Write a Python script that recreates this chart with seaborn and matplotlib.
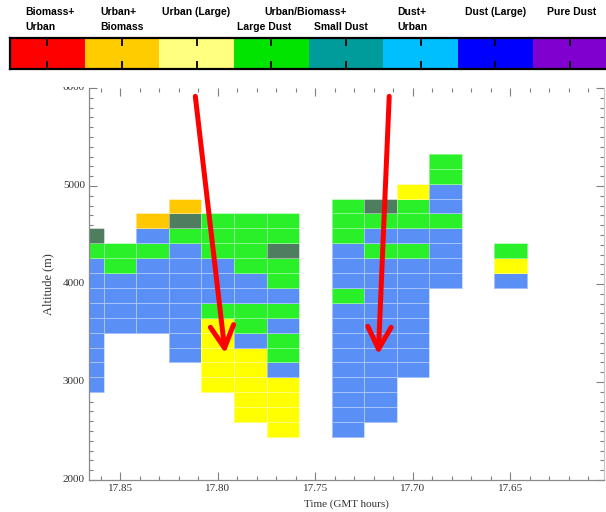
import numpy as np
import pandas as pd
import matplotlib
matplotlib.use("Agg")
import matplotlib.pyplot as plt
import matplotlib.transforms as mtransforms
from matplotlib.colors import ListedColormap
from matplotlib.patches import Rectangle
import seaborn as sns

sns.set_theme(style="white")
plt.rcParams["font.family"] = ["Liberation Serif", "DejaVu Serif"]

# ---- colour key of aerosol types -------------------------------------
key_colors = ["#ff0000", "#ffcc00", "#ffff80", "#00e400",
              "#009c9c", "#00bfff", "#0000ff", "#8000d0"]
key_line1 = ["Biomass+", "Urban+", "Urban (Large)", "Urban/Biomass+",
             "Dust+", "Dust (Large)", "Pure Dust"]
key_line2 = ["Urban", "Biomass", "Large Dust", "Small Dust", "Urban"]

# ---- retrieval grid ---------------------------------------------------
# one-minute time bins (GMT hours)
times = [17.8667, 17.85, 17.8333, 17.8167, 17.80, 17.7833, 17.7667,
         17.75, 17.7333, 17.7167, 17.70, 17.6833, 17.6667, 17.65]
# altitude bin centres (m)
altitudes = [2516, 2668, 2820, 2972, 3124, 3276, 3428, 3580, 3732, 3884,
             4036, 4188, 4340, 4492, 4644, 4796, 4948, 5100, 5252]

# aerosol type per altitude bin, bottom to top, one string per time bin
# B dust+urban, G urban/biomass+large dust, Y urban (large),
# O urban+biomass, D urban/biomass+small dust, . no retrieval
profiles = [
    "...BBBBBBBBBGD.....",
    ".......BBBBGG......",
    ".......BBBBBGBO....",
    ".....BBBBBBBBGDO...",
    "...YYYYYGBBBGGG....",
    ".YYYYYBGGBBGGGG....",
    "YYYYBGGBGBGGDGG....",
    "...................",
    "BBBBBBBBBGBBBGGG...",
    ".BBBBBBBBBBBGBGD...",
    "....BBBBBBBBGBGGY..",
    "..........BBBBGBBGG",
    "...................",
    "..........BYG......",
]
type_codes = {"B": 0, "G": 1, "Y": 2, "O": 3, "D": 4}
cell_colors = ["#5a8ff5", "#2af02a", "#ffff00", "#ffc800", "#4e7d5f"]

grid = np.full((len(altitudes), len(times)), np.nan)
for j, prof in enumerate(profiles):
    for i, ch in enumerate(prof):
        if ch in type_codes:
            grid[i, j] = type_codes[ch]
df = pd.DataFrame(grid, index=altitudes, columns=times)

# axis ranges and ticks
time_range = (17.866, 17.602)
alt_range = (2000, 6000)
time_major = [17.85, 17.80, 17.75, 17.70, 17.65]
time_minor = np.round(np.arange(17.61, 17.865, 0.01), 2)
alt_major = [2000, 3000, 4000, 5000, 6000]
alt_minor = np.arange(2000, 6001, 100)

# arrows: (time, altitude) of tail and head
arrows = [((17.8115, 5915), (17.7962, 3292)),
          ((17.7121, 5915), (17.7177, 3281))]

fig = plt.figure(figsize=(6.06, 5.12), dpi=100, facecolor="white")

# ---- main panel ------------------------------------------------------
ax = fig.add_axes([89 / 606, 32 / 512, 515 / 606, 392 / 512])
sns.heatmap(df, ax=ax, cmap=ListedColormap(cell_colors), vmin=-0.5, vmax=4.5,
            cbar=False, linewidths=0.6, linecolor=(1, 1, 1, 0.45))

# map time / altitude onto the heatmap cell index
tfit = np.polyfit(times, np.arange(len(times)) + 0.5, 1)
afit = np.polyfit(altitudes, np.arange(len(altitudes)) + 0.5, 1)
tx = lambda t: np.polyval(tfit, np.asarray(t, dtype=float))
ay = lambda a: np.polyval(afit, np.asarray(a, dtype=float))

ax.set_xlim(tx(time_range[0]), tx(time_range[1]))
ax.set_ylim(ay(alt_range[0]), ay(alt_range[1]))
ax.set_xticks(tx(time_major))
ax.set_xticklabels([f"{t:.2f}" for t in time_major], rotation=0)
ax.set_xticks(tx(time_minor), minor=True)
ax.set_yticks(ay(alt_major))
ax.set_yticklabels([str(a) for a in alt_major], rotation=0)
ax.set_yticks(ay(alt_minor), minor=True)

ax.tick_params(which="both", direction="in", top=True, right=True,
               bottom=True, left=True, color="#808080", width=0.8,
               labelsize=8, labelcolor="#333333", pad=3)
ax.tick_params(which="major", length=6)
ax.tick_params(which="minor", length=3)

for side, sp in ax.spines.items():
    sp.set_visible(side != "top")
    sp.set_linewidth(0.9)
ax.spines["left"].set_color("#8a8a8a")
ax.spines["bottom"].set_color("#8a8a8a")
ax.spines["right"].set_color("#c8c8c8")

ax.set_xlabel("Time (GMT hours)", fontsize=8, color="#333333")
ax.set_ylabel("Altitude (m)", fontsize=9, color="#333333")
ax.xaxis.set_label_coords(0.5, -0.049)
ax.yaxis.set_label_coords(-0.068, 0.5)

for (t0, a0), (t1, a1) in arrows:
    ax.annotate("", xy=(tx(t1), ay(a1)), xytext=(tx(t0), ay(a0)),
                arrowprops=dict(arrowstyle="->,head_length=0.8,head_width=0.42",
                                color="#ff0000", lw=3.6, mutation_scale=20,
                                shrinkA=0, shrinkB=0),
                annotation_clip=False)

# white band above the panel
fig.add_artist(Rectangle((0, 1 - 87 / 512), 1, 87 / 512,
                         transform=fig.transFigure, facecolor="white",
                         edgecolor="none", zorder=1))

# ---- colour key ------------------------------------------------------
cax = fig.add_axes([10 / 606, 1 - 69 / 512, 597.5 / 606, 31.3 / 512])
cax.set_zorder(2)
sns.heatmap(np.arange(len(key_colors)).reshape(1, -1), ax=cax,
            cmap=ListedColormap(key_colors), cbar=False,
            xticklabels=False, yticklabels=False)
cax.set_axisbelow(False)
cax.set_xticks(np.arange(len(key_colors)) + 0.5)
cax.set_yticks([])
cax.tick_params(axis="x", direction="in", top=True, bottom=True, length=6,
                width=1.3, color="black", labelbottom=False, labeltop=False)
for side, sp in cax.spines.items():
    sp.set_visible(side != "right")
    sp.set_color("black")
    sp.set_linewidth(1.6)

trans = mtransforms.blended_transform_factory(cax.transData, cax.transAxes)
line1_pos = [(0.20, "left"), (1.205, "left"), (2.49, "center"), (3.96, "center"),
             (5.19, "left"), (6.50, "center"), (7.52, "center")]
line2_pos = [(0.20, "left"), (1.205, "left"), (3.41, "center"), (4.43, "center"),
             (5.19, "left")]
for txt, (x, ha) in zip(key_line1, line1_pos):
    cax.text(x, 1.82, txt, transform=trans, ha=ha, va="center", fontsize=7.5,
             fontweight="bold", family="Liberation Sans", color="black",
             clip_on=False)
for txt, (x, ha) in zip(key_line2, line2_pos):
    cax.text(x, 1.34, txt, transform=trans, ha=ha, va="center", fontsize=7.5,
             fontweight="bold", family="Liberation Sans", color="black",
             clip_on=False)

fig.savefig("out.png", dpi=100, facecolor="white")
